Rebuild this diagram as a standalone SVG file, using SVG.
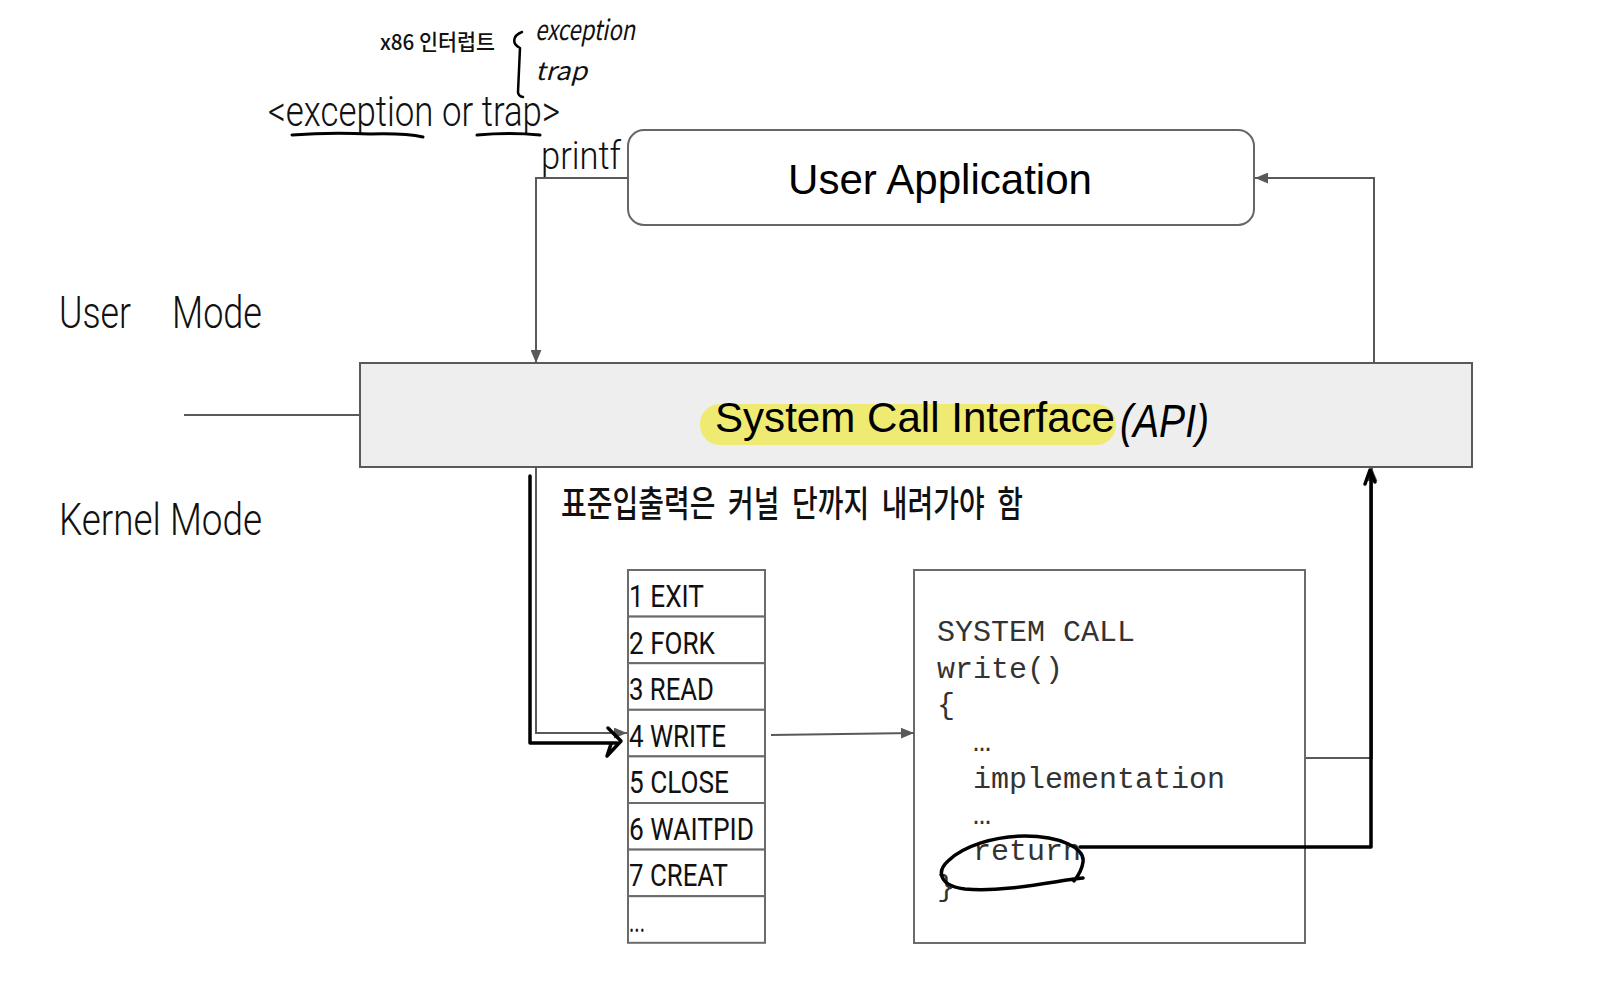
<svg xmlns="http://www.w3.org/2000/svg" width="1620" height="1000" viewBox="0 0 1620 1000">
<defs>
<style>
.lbl{font-family:Roboto,"Liberation Sans",sans-serif;font-weight:300;fill:#111}
.tbl{font-family:Roboto,"Liberation Sans",sans-serif;font-size:32px;fill:#111}
.code{font-family:"Liberation Mono","DejaVu Sans Mono",monospace;font-size:30px;fill:#333}
.hand{font-family:"Noto Sans CJK KR","Noto Sans",sans-serif;fill:#111}
.conn{fill:none;stroke:#595959;stroke-width:2}
.ink{fill:none;stroke:#000;stroke-width:3.5;stroke-linecap:round;stroke-linejoin:round}
.row{fill:#fff;stroke:#6b6b6b;stroke-width:2}
</style>
<marker id="arr" viewBox="0 0 12 10" refX="12" refY="5" markerWidth="13" markerHeight="11" orient="auto" markerUnits="userSpaceOnUse">
<path d="M0,0 L12,5 L0,10 Z" fill="#595959"/>
</marker>
</defs>
<rect width="1620" height="1000" fill="#fff"/>

<!-- handwritten notes at top -->
<g id="note-x86">
<text class="hand" x="380" y="50" font-size="22" font-weight="500" textLength="115" lengthAdjust="spacingAndGlyphs">x86 인터럽트</text>
<path class="ink" style="stroke-width:2.5" d="M522,32 C512,36 512,44 520,48 L518,92 Q518,96 523,97"/>
<text class="hand" x="535" y="40" font-size="28" font-style="italic" textLength="100" lengthAdjust="spacingAndGlyphs">exception</text>
<text class="hand" x="535" y="80" font-size="25" font-style="italic" textLength="52" lengthAdjust="spacingAndGlyphs">trap</text>
</g>

<g id="label-exception">
<text class="lbl" x="268" y="126" font-size="42" textLength="292" lengthAdjust="spacingAndGlyphs">&lt;exception or trap&gt;</text>
<path class="ink" style="stroke-width:3" d="M292,135 Q330,132 370,134 Q405,133 423,137"/>
<path class="ink" style="stroke-width:3" d="M477,135 Q510,132 540,135"/>
</g>

<text class="lbl" x="541" y="169" font-size="38" textLength="80" lengthAdjust="spacingAndGlyphs">printf</text>

<g id="mode-labels">
<text class="lbl" x="59" y="328" font-size="44" textLength="72" lengthAdjust="spacingAndGlyphs">User</text>
<text class="lbl" x="172" y="328" font-size="44" textLength="90" lengthAdjust="spacingAndGlyphs">Mode</text>
<text class="lbl" x="59" y="535" font-size="44" textLength="203" lengthAdjust="spacingAndGlyphs">Kernel Mode</text>
</g>

<g id="user-application">
<rect x="628" y="130" width="626" height="95" rx="16" fill="#fff" stroke="#666" stroke-width="2"/>
<text x="788" y="194" font-family="'Liberation Sans',Arial,sans-serif" font-size="42" fill="#000" textLength="304" lengthAdjust="spacingAndGlyphs">User Application</text>
</g>

<g id="system-call-interface">
<rect x="360" y="363" width="1112" height="104" fill="#eeeeee" stroke="#595959" stroke-width="2"/>
<rect x="700" y="404" width="416" height="41" rx="20" fill="#eeea72"/>
<text x="715" y="432" font-family="'Liberation Sans',Arial,sans-serif" font-size="42" fill="#000" textLength="400" lengthAdjust="spacingAndGlyphs">System Call Interface</text>
<text x="1120" y="437" font-family="'Liberation Sans',Arial,sans-serif" font-size="46" font-style="italic" fill="#000" textLength="89" lengthAdjust="spacingAndGlyphs">(API)</text>
</g>

<g id="note-kernel">
<text class="hand" xml:space="preserve" x="561" y="517" font-size="36" font-weight="500" textLength="462" lengthAdjust="spacingAndGlyphs">표준입출력은  커널  단까지  내려가야  함</text>
</g>

<g id="syscall-table">
<rect class="row" x="628" y="570" width="137" height="46.6"/>
<rect class="row" x="628" y="616.6" width="137" height="46.6"/>
<rect class="row" x="628" y="663.2" width="137" height="46.6"/>
<rect class="row" x="628" y="709.8" width="137" height="46.6"/>
<rect class="row" x="628" y="756.4" width="137" height="46.6"/>
<rect class="row" x="628" y="803" width="137" height="46.6"/>
<rect class="row" x="628" y="849.6" width="137" height="46.6"/>
<rect class="row" x="628" y="896.2" width="137" height="46.6"/>
<text class="tbl" x="629" y="607" textLength="75" lengthAdjust="spacingAndGlyphs">1 EXIT</text>
<text class="tbl" x="629" y="654" textLength="86" lengthAdjust="spacingAndGlyphs">2 FORK</text>
<text class="tbl" x="629" y="700" textLength="85" lengthAdjust="spacingAndGlyphs">3 READ</text>
<text class="tbl" x="629" y="747" textLength="97" lengthAdjust="spacingAndGlyphs">4 WRITE</text>
<text class="tbl" x="629" y="793" textLength="100" lengthAdjust="spacingAndGlyphs">5 CLOSE</text>
<text class="tbl" x="629" y="840" textLength="125" lengthAdjust="spacingAndGlyphs">6 WAITPID</text>
<text class="tbl" x="629" y="886" textLength="99" lengthAdjust="spacingAndGlyphs">7 CREAT</text>
<text class="tbl" x="629" y="932" font-size="22" textLength="16" lengthAdjust="spacingAndGlyphs">...</text>
</g>

<g id="write-impl">
<rect x="914" y="570" width="391" height="373" fill="#fff" stroke="#6b6b6b" stroke-width="2"/>
<text class="code" x="937" y="641">SYSTEM CALL</text>
<text class="code" x="937" y="678">write()</text>
<text class="code" x="937" y="714">{</text>
<text class="code" x="973" y="751">…</text>
<text class="code" x="973" y="788">implementation</text>
<text class="code" x="973" y="824">…</text>
<text class="code" x="973" y="860">return</text>
<text class="code" x="937" y="896">}</text>
</g>

<!-- connectors -->
<g id="connectors">
<line class="conn" x1="184" y1="415" x2="360" y2="415"/>
<polyline class="conn" points="628,178 536,178 536,363" marker-end="url(#arr)"/>
<polyline class="conn" points="536,468 536,733 627,733" marker-end="url(#arr)"/>
<line class="conn" x1="771" y1="735" x2="914" y2="733" marker-end="url(#arr)"/>
<polyline class="conn" points="1306,758 1372,758 1372,468" marker-end="url(#arr)"/>
<polyline class="conn" points="1374,362 1374,178 1255,178" marker-end="url(#arr)"/>
<!-- hand-drawn ink -->
<polyline class="ink" points="530,476 530,743 617,743"/>
<path class="ink" d="M608,728 L621,741 L607,756 L611,744"/>
<path class="ink" d="M1083,878 L1074,879 C1040,884 1000,892 965,889 C940,886 936,872 948,861 C963,846 995,836 1025,836 C1060,836 1085,848 1083,862 C1082,870 1078,876 1074,881"/>
<polyline class="ink" points="1080,847 1371,847 1371,472"/>
<path class="ink" d="M1365,484 L1370,470 L1375,482"/>
</g>
</svg>
